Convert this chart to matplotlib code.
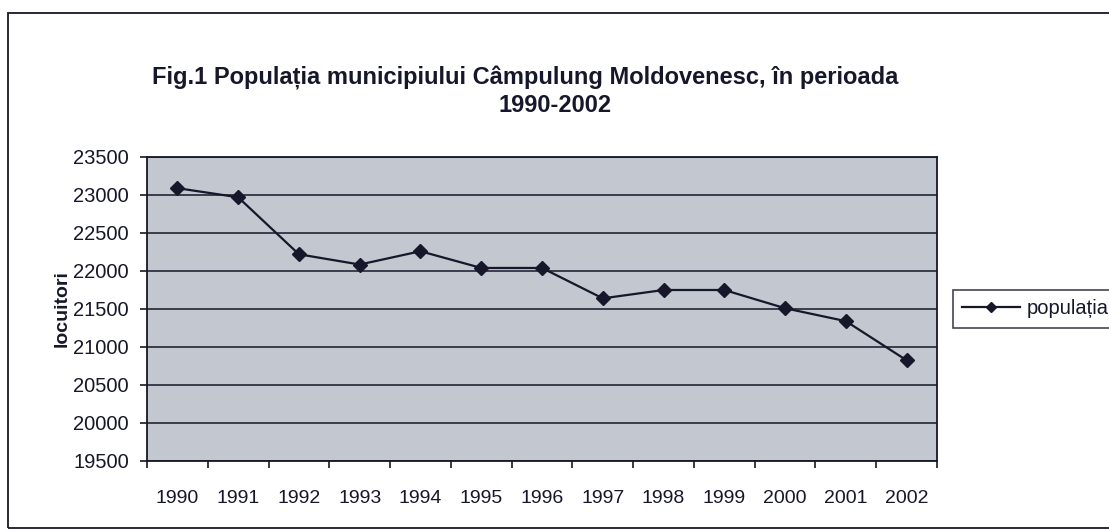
"""Fig.1 Populatia municipiului Campulung Moldovenesc, 1990-2002."""

import matplotlib

matplotlib.use("Agg")
import matplotlib.pyplot as plt
from matplotlib.patches import Rectangle

years = [1990, 1991, 1992, 1993, 1994, 1995, 1996,
         1997, 1998, 1999, 2000, 2001, 2002]
populatia = [23090, 22970, 22220, 22085, 22260, 22040, 22040,
             21640, 21750, 21750, 21510, 21340, 20825]
yticks = list(range(19500, 23501, 500))

ink = "#16172a"
plt.rcParams["font.family"] = ["Liberation Sans", "DejaVu Sans"]

fig = plt.figure(figsize=(11.09, 5.32), dpi=100)
W, H = 1109, 532

# outer chart border
fig.patches.append(Rectangle((8 / W, 1 - 528 / H), 1.2, (528 - 13) / H,
                             transform=fig.transFigure, fill=False,
                             edgecolor=ink, linewidth=1.3))

ax = fig.add_axes([147 / W, 1 - 461 / H, (937 - 147) / W, (461 - 157) / H])
ax.set_facecolor("#c3c7cf")

x = list(range(len(years)))
ax.plot(x, populatia, color=ink, linewidth=1.6, marker="D", markersize=7,
        markerfacecolor=ink, markeredgecolor=ink, label="populația")

ax.set_xlim(-0.5, len(years) - 0.5)
ax.set_ylim(19500, 23500)
ax.set_yticks(yticks)
ax.set_yticklabels([str(v) for v in yticks])
ax.set_xticks([i - 0.5 for i in range(len(years) + 1)], minor=False)
ax.set_xticklabels([])
ax.set_xticks(x, minor=True)
ax.set_xticklabels([str(y) for y in years], minor=True)
ax.tick_params(axis="x", which="major", length=5, color=ink, width=1.2)
ax.tick_params(axis="x", which="minor", length=0, pad=21,
               labelsize=14, labelcolor=ink)
ax.tick_params(axis="y", length=5, color=ink, width=1.2, pad=8,
               labelsize=14.5, labelcolor=ink)
ax.grid(axis="y", color=ink, linewidth=1.1)
ax.set_axisbelow(True)
for s in ax.spines.values():
    s.set_color(ink)
    s.set_linewidth(1.3)

ax.set_ylabel("locuitori", fontsize=14, fontweight="bold", color=ink,
              labelpad=2)

fig.text(525 / W, 1 - 78 / H,
         "Fig.1 Populația municipiului Câmpulung Moldovenesc, în perioada",
         ha="center", va="center", fontsize=17, fontweight="bold", color=ink)
fig.text(555 / W, 1 - 105 / H, "1990-2002",
         ha="center", va="center", fontsize=17, fontweight="bold", color=ink)

leg = ax.legend(loc="center left", bbox_to_anchor=(1.02, 0.5),
                borderaxespad=0, frameon=True, fancybox=False, fontsize=14.5,
                handlelength=2.9, handletextpad=0.3, borderpad=0.45,
                markerscale=0.8)
leg.get_frame().set_edgecolor(ink)
leg.get_frame().set_linewidth(1.2)
for t in leg.get_texts():
    t.set_color(ink)

fig.savefig("out.png", dpi=100, facecolor="white")
